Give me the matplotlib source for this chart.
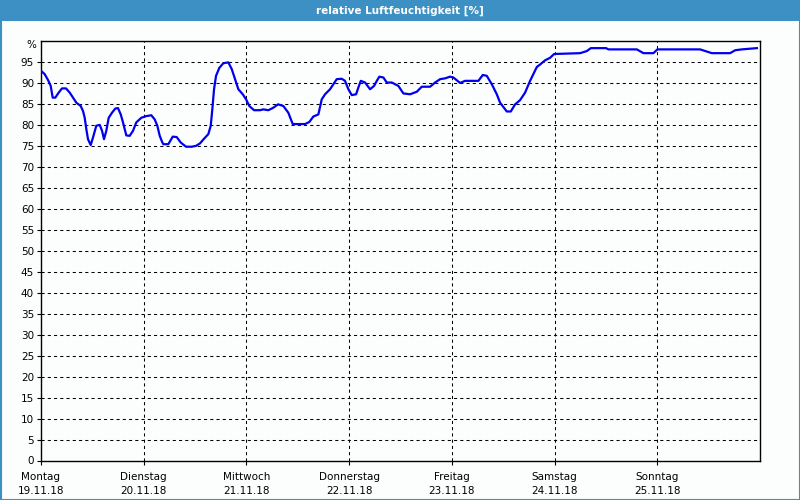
import matplotlib
matplotlib.use("Agg")
import matplotlib.pyplot as plt
from matplotlib.patches import Rectangle
import matplotlib.transforms as mtransforms

# time in hours since Monday 19.11.18 00:00
hours = [0.0, 0.86, 1.64, 2.27, 2.73, 3.34, 4.14, 4.91, 5.84, 6.71, 7.48, 8.25, 9.28, 9.82,
         10.21, 10.59, 10.98, 11.61, 12.15, 12.92, 13.72, 14.26, 14.72, 15.26, 15.82, 16.59,
         17.36, 18.0, 18.63, 19.16, 19.93, 20.73, 21.5, 22.27, 23.44, 24.61, 25.78, 26.57,
         27.18, 27.74, 28.28, 28.58, 29.75, 30.78, 31.71, 32.65, 33.89, 35.22, 36.22, 37.16,
         38.09, 39.1, 39.66, 40.03, 40.43, 40.9, 41.67, 42.6, 43.77, 44.57, 45.34, 46.11,
         47.14, 47.91, 48.68, 49.78, 51.18, 51.95, 53.12, 54.29, 55.39, 56.63, 57.79, 58.82,
         61.7, 62.7, 63.64, 64.81, 65.6, 66.37, 67.54, 68.31, 69.1, 70.27, 71.04, 71.82,
         72.61, 73.62, 74.15, 74.72, 75.72, 76.89, 77.83, 78.46, 79.06, 80.0, 80.79, 81.96,
         83.5, 84.67, 86.24, 87.8, 88.97, 90.91, 92.08, 93.25, 94.42, 95.59, 96.36, 97.92,
         99.09, 102.2, 103.23, 104.16, 105.33, 106.5, 107.27, 108.84, 109.77, 110.78, 111.94,
         113.11, 114.28, 115.05, 115.85, 116.62, 117.79, 118.96, 119.89, 125.97, 127.53,
         128.47, 132.04, 132.58, 139.22, 140.76, 143.1, 144.03, 154.01, 156.75, 161.02,
         162.2, 163.76, 167.27]
humidity = [92.9, 92.1, 90.7, 89.3, 86.5, 86.5, 87.7, 88.7, 88.7, 87.7, 86.5, 85.3, 84.5, 83.3,
            81.7, 79.0, 76.6, 75.2, 77.0, 79.8, 80.0, 78.6, 76.6, 78.6, 81.7, 82.9,
            83.9, 84.0, 82.5, 80.6, 77.5, 77.4, 78.6, 80.6, 81.7, 82.1, 82.3, 81.3,
            79.8, 77.4, 76.0, 75.4, 75.4, 77.2, 77.1, 75.8, 74.8, 74.8, 75.0, 75.6,
            76.7, 77.8, 79.8, 83.7, 88.5, 91.7, 93.6, 94.7, 94.9, 93.3, 90.9, 88.5,
            87.3, 86.1, 84.5, 83.5, 83.5, 83.7, 83.5, 84.1, 84.9, 84.5, 82.9, 80.2,
            80.2, 80.7, 82.0, 82.5, 86.1, 87.3, 88.5, 89.7, 90.9, 91.0, 90.5, 88.5,
            87.1, 87.3, 88.9, 90.5, 90.1, 88.5, 89.3, 90.5, 91.5, 91.3, 90.1, 90.1,
            89.3, 87.5, 87.3, 87.9, 89.1, 89.1, 90.1, 90.9, 91.1, 91.5, 91.3, 90.0,
            90.5, 90.5, 91.9, 91.7, 89.7, 87.3, 85.3, 83.2, 83.2, 84.9, 85.9,
            87.7, 90.5, 92.1, 93.8, 94.4, 95.4, 96.0, 96.9, 97.1, 97.6,
            98.3, 98.3, 98.0, 98.0, 97.1, 97.1, 98.0, 98.0, 97.1, 97.1,
            97.8, 98.0, 98.3]

day_names = ["Montag", "Dienstag", "Mittwoch", "Donnerstag", "Freitag", "Samstag", "Sonntag"]
day_dates = ["19.11.18", "20.11.18", "21.11.18", "22.11.18", "23.11.18", "24.11.18", "25.11.18"]
y_ticks = list(range(0, 100, 5))
title = "relative Luftfeuchtigkeit [%]"

plt.rcParams['font.family'] = ['DejaVu Sans']

fig = plt.figure(figsize=(8, 5), dpi=100)
fig.patch.set_facecolor('#fcfefe')

# title bar
fig.patches.append(Rectangle((0, 1 - 21 / 500), 1, 21 / 500, transform=fig.transFigure,
                             facecolor='#3c90c3', edgecolor='none', zorder=0))
fig.patches.append(Rectangle((0.5 / 800, 0.5 / 500), 799 / 800, 499 / 500, transform=fig.transFigure,
                             facecolor='none', edgecolor='#3c90c3', linewidth=1.5, zorder=5))
fig.text(0.5, 1 - 10.5 / 500, title, color='white', fontsize=7.5, fontweight='bold',
         ha='center', va='center')

ax = fig.add_axes([41 / 800, 39.5 / 500, 719 / 800, 419.5 / 500])
ax.set_facecolor('#fcfefe')
days = [h / 24.0 for h in hours]
ax.plot(days, humidity, color='#0000ee', linewidth=1.6, zorder=3)

ax.set_xlim(0, 7)
ax.set_ylim(0, 100)
ax.set_yticks(y_ticks)
ax.set_yticklabels([str(v) for v in y_ticks])
ax.set_xticks(list(range(len(day_names))))
ax.set_xticklabels([f"{n}\n{d}" for n, d in zip(day_names, day_dates)], linespacing=1.5)

ax.tick_params(axis='both', labelsize=7.5, length=3, width=0.8, color='black', direction='out')
ax.tick_params(axis='x', pad=5)
ax.tick_params(axis='y', pad=2)

for v in y_ticks[1:]:
    ax.axhline(v, color='black', linewidth=0.75, linestyle=(0, (3, 3)), zorder=1)
for d in range(1, 7):
    ax.axvline(d, color='black', linewidth=0.75, linestyle=(0, (3, 3)), zorder=1)

for s in ax.spines.values():
    s.set_linewidth(1.0)
    s.set_color('black')

trans = mtransforms.blended_transform_factory(ax.transAxes, ax.transData)
ax.text(-0.006, 100.3, '%', transform=trans, ha='right', va='top', fontsize=7.5)

fig.savefig('out.png', dpi=100, facecolor=fig.get_facecolor())
